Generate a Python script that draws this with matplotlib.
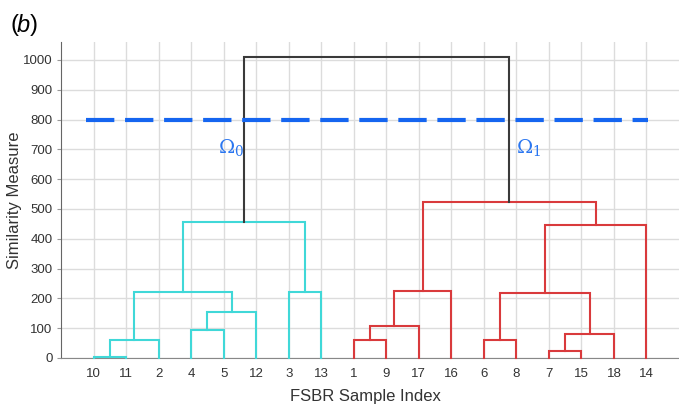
import matplotlib
matplotlib.use("Agg")
import matplotlib.pyplot as plt
import numpy as np

plt.rcParams['font.family'] = ['Liberation Sans', 'DejaVu Sans']

# Leaf order (left to right) and their labels
leaf_labels = ["10", "11", "2", "4", "5", "12", "3", "13", "1", "9", "17", "16",
               "6", "8", "7", "15", "18", "14"]

# Merge list: (left child, right child, height). Children are leaf labels or
# names of earlier clusters.
merge_left = ["10", "A", "4", "C", "B", "3", "E", "1", "G", "H", "6", "7", "L", "K", "M", "I", "J"]
merge_right = ["11", "2", "5", "12", "D", "13", "F", "9", "17", "16", "8", "15", "18", "N", "14", "O", "P"]
merge_names = ["A", "B", "C", "D", "E", "F", "J", "G", "H", "I", "K", "L", "N", "M", "O", "P", "Q"]
merge_heights = [2, 62, 94, 154, 220, 222, 456, 59, 106, 224, 60, 25, 82, 217, 447, 523, 1009]
merge_colors = ["cyan"] * 7 + ["red"] * 9 + ["black"]

threshold = 800
color_map = {"cyan": "#40d8d8", "red": "#d93a3c", "black": "#3a3a3a"}

fig = plt.figure(figsize=(6.79, 4.04), dpi=100)
ax = fig.add_axes([61 / 679, 1 - 358 / 404, (679 - 61) / 679, (358 - 42) / 404])

pos = {lab: i + 1 for i, lab in enumerate(leaf_labels)}
hgt = {lab: 0.0 for lab in leaf_labels}
for l, r, name, h, c in zip(merge_left, merge_right, merge_names, merge_heights, merge_colors):
    xl, xr = pos[l], pos[r]
    ax.plot([xl, xl, xr, xr], [hgt[l], h, h, hgt[r]], color=color_map[c], lw=1.5,
            solid_joinstyle='miter', zorder=3, clip_on=False)
    pos[name] = (xl + xr) / 2
    hgt[name] = h

ax.plot([0.77, 18.06], [threshold, threshold], color="#1565f0", lw=3.0,
        dashes=(6.8, 2.57), zorder=4, dash_capstyle='butt')

ax.text(4.83, 705, r"$\Omega_0$", color="#2a76f0", fontsize=14, ha="left", va="center",
        math_fontfamily='dejavuserif')
ax.text(14.0, 705, r"$\Omega_1$", color="#2a76f0", fontsize=14, ha="left", va="center",
        math_fontfamily='dejavuserif')

ax.set_xlim(0, 19)
ax.set_ylim(0, 1060)
ax.set_xticks(range(1, len(leaf_labels) + 1))
ax.set_xticklabels(leaf_labels)
ax.set_yticks(range(0, 1001, 100))
ax.tick_params(axis='x', length=0, labelsize=9.5, colors="#333333", pad=7)
ax.tick_params(axis='y', length=3, labelsize=9.5, colors="#333333", pad=3, color="#999999")
ax.grid(True, color="#dcdcdc", lw=1)
ax.set_axisbelow(True)
for s in ["top", "right"]:
    ax.spines[s].set_visible(False)
ax.spines["left"].set_color("#666666")
ax.spines["bottom"].set_color("#888888")
ax.set_xlabel("FSBR Sample Index", fontsize=12, color="#333333")
ax.xaxis.set_label_coords((365 - 61) / (679 - 61), -(397 - 358) / (358 - 42), transform=ax.transAxes)
ax.xaxis.label.set_va("center")
ax.set_ylabel("Similarity Measure", fontsize=12, color="#333333")
ax.yaxis.set_label_coords(-(61 - 15) / (679 - 61), 0.5)
ax.yaxis.label.set_va("center")

fig.text(10 / 679, 1 - 25 / 404, "(", fontsize=17, va="center")
fig.text(17 / 679, 1 - 25 / 404, "b", fontsize=17, style="italic", va="center")
fig.text(30 / 679, 1 - 25 / 404, ")", fontsize=17, va="center")

fig.savefig("out.png", dpi=100)
